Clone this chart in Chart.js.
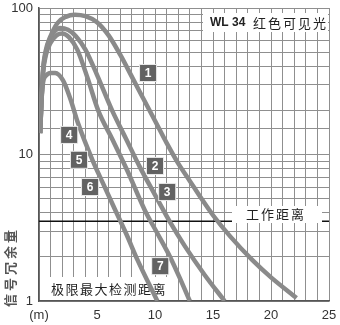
<!DOCTYPE html>
<html>
<head>
<meta charset="utf-8">
<script src="https://cdn.jsdelivr.net/npm/chart.js@4.4.1/dist/chart.umd.min.js"></script>
<style>
  html, body { margin: 0; padding: 0; background: #fff; }
  #wrap { width: 340px; height: 325px; }
</style>
</head>
<body>
<div id="wrap"><canvas id="c"></canvas></div>
<script>
// distance (m) / signal margin readings for each curve
const dist1 = [0.1, 0.2, 0.35, 0.6, 0.95, 1.6, 2.3, 3.1, 4, 5, 6, 7, 8, 9, 10, 11, 12, 13, 14, 15, 16.5, 18.4, 20, 22.2];
const sig1  = [14, 22, 38, 52, 63, 79, 87, 90, 88, 80, 65, 48, 34, 24, 17, 12, 8.7, 6.6, 5.0, 3.85, 2.75, 1.9, 1.45, 1.05];

const dist2 = [0.1, 0.2, 0.35, 0.6, 1.0, 1.4, 1.8, 2.5, 3.2, 4, 5, 6.3, 7.5, 8.7, 10, 11.3, 12.6, 14.3, 16];
const sig2  = [14, 22, 37, 50, 63, 70, 73, 71, 64, 52, 35, 20, 12.8, 8.2, 5.3, 3.45, 2.35, 1.5, 1.0];

const dist3 = [0.1, 0.2, 0.35, 0.6, 1.0, 1.5, 2.0, 2.6, 3.3, 4.2, 5.1, 6.3, 7.6, 9.1, 10.2, 11.3, 12.2, 13];
const sig3  = [14, 22, 36, 48, 58, 65, 67, 63, 52, 33, 20, 12.8, 7.8, 4.2, 2.9, 2.0, 1.4, 1.0];

const dist4 = [0.1, 0.2, 0.35, 0.6, 1.0, 1.4, 2.07, 2.7, 3.36, 4.6, 5.5, 6.5, 7.5, 8.5, 10.2];
const sig4  = [14, 22, 31, 34.5, 36, 36, 32, 24, 16.4, 9.2, 6.4, 4.3, 2.9, 1.9, 1.0];

const workLevel = 3.5;
const xTickLabels = { 0: '(m)', 5: '5', 10: '10', 15: '15', 20: '20', 25: '25' };
const yTickLabels = [1, 10, 100];

// curve markers 1..7 (label, distance, signal)
const markNames = ['1', '2', '3', '4', '5', '6', '7'];
const markDist  = [9.4, 10.0, 11.05, 2.6, 3.45, 4.4, 10.45];
const markSig   = [36, 8.35, 5.55, 13.6, 9.2, 6.0, 1.73];

const toPts = (xs, ys) => xs.map((x, i) => ({ x, y: ys[i] }));
const CURVE = '#8a8a8a';

function curve(xs, ys) {
  return {
    data: toPts(xs, ys),
    borderColor: CURVE, borderWidth: 4.5,
    pointRadius: 0, fill: false,
    cubicInterpolationMode: 'monotone',
    order: 0,
  };
}

// white boxes + captions, drawn right after the working-distance line (under the curves)
function drawBoxes(chart) {
  const { ctx, chartArea: a } = chart;
  ctx.save();
  ctx.fillStyle = '#fff';
  ctx.fillRect(203, 13, a.right - 203 - 1, 19);
  ctx.fillRect(232, 206, 90, 17);
  ctx.fillRect(a.left + 1, 277, 131, a.bottom - 277 - 1);

  ctx.fillStyle = '#222';
  ctx.textBaseline = 'middle';
  ctx.font = 'bold 12px "Liberation Sans", Arial, sans-serif';
  ctx.fillText('WL 34', 210, 23);
  ctx.font = '13px "Noto Sans CJK SC", sans-serif';
  ctx.letterSpacing = '2px';
  ctx.fillText('红色可见光', 253, 23);
  ctx.fillText('工作距离', 246, 214);
  ctx.letterSpacing = '1.5px';
  ctx.fillText('极限最大检测距离', 51, 289);
  ctx.restore();
}

const decor = {
  id: 'decor',
  afterDatasetDraw(chart, args) {
    if (args.index === 4) drawBoxes(chart);
  },
  afterDatasetsDraw(chart) {
    const { ctx, scales: { x, y } } = chart;
    ctx.save();
    markNames.forEach((t, i) => {
      const px = x.getPixelForValue(markDist[i]);
      const py = y.getPixelForValue(markSig[i]);
      ctx.fillStyle = '#e8e8e8';
      ctx.fillRect(px - 9, py - 9, 18, 18);
      ctx.fillStyle = '#626262';
      ctx.fillRect(px - 8, py - 8, 16, 16);
      ctx.fillStyle = '#fff';
      ctx.font = 'bold 12px "Liberation Sans", Arial, sans-serif';
      ctx.textAlign = 'center';
      ctx.textBaseline = 'middle';
      ctx.fillText(t, px, py + 0.5);
    });
    // y axis title, reading bottom to top
    ctx.translate(10, 267);
    ctx.rotate(-Math.PI / 2);
    ctx.fillStyle = '#555';
    ctx.font = 'bold 13px "Noto Sans CJK SC", sans-serif';
    ctx.letterSpacing = '3px';
    ctx.textAlign = 'center';
    ctx.textBaseline = 'middle';
    ctx.fillText('信号冗余量', 0, 0);
    ctx.restore();
  }
};

new Chart(document.getElementById('c'), {
  type: 'line',
  data: {
    datasets: [
      curve(dist1, sig1),
      curve(dist2, sig2),
      curve(dist3, sig3),
      curve(dist4, sig4),
      {
        data: [{ x: 0, y: workLevel }, { x: 25, y: workLevel }],
        borderColor: '#111', borderWidth: 1.5,
        pointRadius: 0, fill: false, order: 10,
      },
    ]
  },
  options: {
    responsive: true, maintainAspectRatio: false,
    animation: false,
    layout: { padding: { top: 8, right: 11, left: 0, bottom: 0 } },
    plugins: { legend: { display: false }, tooltip: { enabled: false } },
    scales: {
      x: {
        type: 'linear', min: 0, max: 25,
        afterFit: s => { s.height = 24; s.paddingLeft = 0; s.paddingRight = 0; },
        grid: { color: '#8f8f8f', lineWidth: 1, drawTicks: false },
        border: { color: '#555', width: 1.5 },
        ticks: {
          stepSize: 1, autoSkip: false, maxRotation: 0, padding: 7,
          color: '#333', font: { family: '"Liberation Sans", Arial, sans-serif', size: 13 },
          callback: v => xTickLabels[v] ?? ''
        }
      },
      y: {
        type: 'logarithmic', min: 1, max: 100,
        afterFit: s => { s.width = 39; s.paddingTop = 0; s.paddingBottom = 0; },
        grid: { color: '#8f8f8f', lineWidth: 1, drawTicks: false },
        border: { color: '#555', width: 1.5 },
        ticks: {
          autoSkip: false, padding: 6,
          color: '#333', font: { family: '"Liberation Sans", Arial, sans-serif', size: 13 },
          callback: v => yTickLabels.includes(v) ? String(v) : ''
        }
      }
    }
  },
  plugins: [decor]
});
</script>
</body>
</html>
